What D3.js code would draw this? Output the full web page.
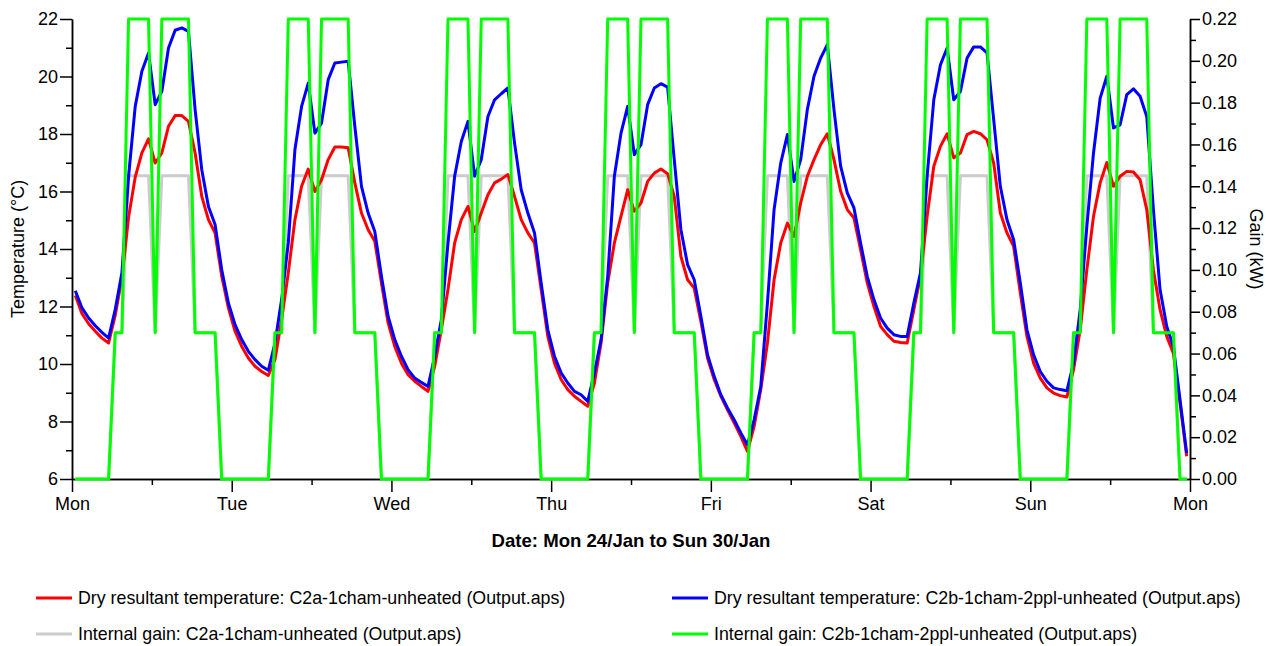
<!DOCTYPE html>
<html lang="en">
<head>
<meta charset="UTF-8">
<title>Dry resultant temperature and internal gain</title>
<script src="https://d3js.org/d3.v7.min.js"></script>
<style>
  body { margin: 0; background: #fff; }
  svg text { font-family: "Liberation Sans", Arial, sans-serif; fill: #000; }
  .axis text { font-size: 18px; }
  .axis path, .axis line { stroke: #000; stroke-width: 1.5; }
</style>
</head>
<body>
<svg id="chart" width="1266" height="646"></svg>
<script>
// hourly values, one row per day (Mon 24/Jan .. Sun 30/Jan), plotted at hh:30
const tempA = [
  12.38, 11.75, 11.4, 11.14, 10.9, 10.73, 11.7, 13.0, 15.1, 16.5, 17.34, 17.83, 16.99, 17.34, 18.27, 18.64, 18.64, 18.44, 17.34, 15.83, 15.02, 14.56, 13.05, 11.95,
  11.14, 10.61, 10.21, 9.92, 9.74, 9.6, 10.15, 11.54, 13.17, 15.02, 16.18, 16.78, 16.0, 16.41, 17.11, 17.55, 17.55, 17.52, 16.3, 15.25, 14.67, 14.27, 12.82, 11.43,
  10.61, 10.03, 9.63, 9.4, 9.22, 9.05, 9.92, 11.19, 12.59, 14.21, 15.02, 15.48, 14.61, 15.25, 15.89, 16.3, 16.43, 16.59, 15.83, 15.02, 14.56, 14.21, 12.59, 10.96,
  10.03, 9.46, 9.11, 8.88, 8.7, 8.53, 9.34, 10.73, 12.82, 14.21, 15.14, 16.06, 15.31, 15.6, 16.35, 16.64, 16.78, 16.62, 15.83, 13.74, 12.93, 12.64, 11.48, 10.21,
  9.46, 8.88, 8.41, 7.95, 7.48, 6.96, 7.83, 9.11, 10.73, 12.93, 14.21, 14.9, 14.44, 15.6, 16.53, 17.11, 17.63, 18.01, 17.11, 16.01, 15.37, 15.08, 13.98, 12.82,
  12.01, 11.31, 11.02, 10.79, 10.75, 10.73, 11.89, 13.05, 15.14, 16.88, 17.57, 18.01, 17.17, 17.34, 17.98, 18.09, 18.01, 17.8, 16.99, 15.25, 14.56, 14.09, 12.47, 10.96,
  10.03, 9.51, 9.17, 8.99, 8.9, 8.85, 9.8, 11.19, 13.28, 15.14, 16.3, 17.01, 16.18, 16.53, 16.7, 16.68, 16.41, 15.37, 13.28, 11.89, 10.96, 10.38, 8.64, 6.79
];
const tempB = [
  12.55, 11.95, 11.6, 11.33, 11.1, 10.9, 11.9, 13.17, 16.53, 18.96, 20.18, 20.82, 19.02, 19.48, 20.99, 21.61, 21.69, 21.57, 18.85, 16.76, 15.48, 14.85, 13.28, 12.12,
  11.37, 10.85, 10.44, 10.15, 9.92, 9.78, 10.73, 12.24, 14.21, 17.46, 18.96, 19.77, 18.03, 18.38, 19.89, 20.47, 20.5, 20.53, 18.27, 16.18, 15.25, 14.61, 13.05, 11.66,
  10.85, 10.27, 9.8, 9.51, 9.36, 9.22, 10.27, 11.54, 14.21, 16.53, 17.74, 18.44, 16.53, 17.11, 18.61, 19.19, 19.4, 19.6, 17.69, 16.06, 15.25, 14.56, 12.82, 11.19,
  10.27, 9.69, 9.34, 9.05, 8.93, 8.7, 9.69, 10.85, 13.05, 16.53, 18.03, 18.96, 17.28, 17.63, 19.02, 19.6, 19.75, 19.63, 17.11, 14.67, 13.46, 12.93, 11.66, 10.32,
  9.57, 8.93, 8.47, 8.06, 7.6, 7.19, 8.06, 9.22, 12.12, 15.37, 16.99, 17.98, 16.35, 17.11, 18.85, 20.01, 20.64, 21.11, 18.85, 16.88, 15.95, 15.43, 14.21, 13.05,
  12.24, 11.6, 11.25, 11.02, 10.96, 10.96, 12.12, 13.17, 16.53, 19.19, 20.41, 20.99, 19.19, 19.48, 20.64, 21.03, 21.03, 20.82, 18.5, 16.18, 15.02, 14.32, 12.82, 11.19,
  10.32, 9.74, 9.4, 9.17, 9.11, 9.07, 10.03, 11.89, 14.79, 17.34, 19.25, 20.01, 18.21, 18.32, 19.37, 19.57, 19.31, 18.61, 15.37, 12.59, 11.31, 10.61, 8.76, 6.9
];
// internal gain schedule, the same every day (kW)
const gainDayA = [0, 0, 0, 0, 0, 0, 0.07, 0.07, 0.145, 0.145, 0.145, 0.145, 0.07, 0.145, 0.145, 0.145, 0.145, 0.145, 0.07, 0.07, 0.07, 0.07, 0, 0];
const gainDayB = [0, 0, 0, 0, 0, 0, 0.07, 0.07, 0.22, 0.22, 0.22, 0.22, 0.07, 0.22, 0.22, 0.22, 0.22, 0.22, 0.07, 0.07, 0.07, 0.07, 0, 0];
const numDays = 7;

const dayNames = ["Mon", "Tue", "Wed", "Thu", "Fri", "Sat", "Sun", "Mon"];
const tempTicks = [6, 8, 10, 12, 14, 16, 18, 20, 22];
const tempMinor = [7, 9, 11, 13, 15, 17, 19, 21];
const gainTicks = [0, 0.02, 0.04, 0.06, 0.08, 0.10, 0.12, 0.14, 0.16, 0.18, 0.20, 0.22];
const gainMinor = [0.01, 0.03, 0.05, 0.07, 0.09, 0.11, 0.13, 0.15, 0.17, 0.19, 0.21];

const seriesNames = [
  "Dry resultant temperature: C2a-1cham-unheated (Output.aps)",
  "Dry resultant temperature: C2b-1cham-2ppl-unheated (Output.aps)",
  "Internal gain: C2a-1cham-unheated (Output.aps)",
  "Internal gain: C2b-1cham-2ppl-unheated (Output.aps)"
];
const seriesColors = ["#ff0000", "#0000ff", "#cccccc", "#00ff00"];

const svg = d3.select("#chart");
const width = +svg.attr("width");
const height = +svg.attr("height");
const margin = {top: 19, right: 76, bottom: 167, left: 72};
const plotWidth = width - margin.left - margin.right;
const plotHeight = height - margin.top - margin.bottom;

const start = Date.UTC(2022, 0, 24);
const hour = 3600 * 1000;
const timeAt = k => new Date(start + (k + 0.5) * hour);

const xScale = d3.scaleUtc()
  .domain([new Date(start), new Date(start + numDays * 24 * hour)])
  .range([0, plotWidth]);
const tempScale = d3.scaleLinear().domain([6, 22]).range([plotHeight, 0]);
const gainScale = d3.scaleLinear().domain([0, 0.22]).range([plotHeight, 0]);

const chart = svg.append("g").attr("transform", `translate(${margin.left},${margin.top})`);

// axes
const dayTicks = d3.range(numDays + 1).map(d => new Date(start + d * 24 * hour));
const noonTicks = d3.range(numDays).map(d => new Date(start + (d * 24 + 12) * hour));

chart.append("g").attr("class", "axis")
  .attr("transform", `translate(0,${plotHeight})`)
  .call(d3.axisBottom(xScale).tickValues(noonTicks).tickFormat("").tickSize(6).tickSizeOuter(0));
chart.append("g").attr("class", "axis")
  .attr("transform", `translate(0,${plotHeight})`)
  .call(d3.axisBottom(xScale).tickValues(dayTicks).tickFormat((d, i) => dayNames[i])
    .tickSize(13).tickPadding(5).tickSizeOuter(0));

chart.append("g").attr("class", "axis")
  .call(d3.axisLeft(tempScale).tickValues(tempMinor).tickFormat("").tickSize(6).tickSizeOuter(0));
chart.append("g").attr("class", "axis")
  .call(d3.axisLeft(tempScale).tickValues(tempTicks).tickSize(12).tickPadding(2).tickSizeOuter(0));

chart.append("g").attr("class", "axis")
  .attr("transform", `translate(${plotWidth},0)`)
  .call(d3.axisRight(gainScale).tickValues(gainMinor).tickFormat("").tickSize(6).tickSizeOuter(0));
chart.append("g").attr("class", "axis")
  .attr("transform", `translate(${plotWidth},0)`)
  .call(d3.axisRight(gainScale).tickValues(gainTicks).tickFormat(d3.format(".2f"))
    .tickSize(10).tickPadding(2).tickSizeOuter(0));

// series
const gainA = [], gainB = [];
for (let d = 0; d < numDays; d++) {
  gainA.push(...gainDayA);
  gainB.push(...gainDayB);
}

const tempLine = d3.line().x((d, i) => xScale(timeAt(i))).y(d => tempScale(d));
const gainLine = d3.line().x((d, i) => xScale(timeAt(i))).y(d => gainScale(d));

const series = [
  {values: gainA, line: gainLine, color: seriesColors[2]},
  {values: tempA, line: tempLine, color: seriesColors[0]},
  {values: tempB, line: tempLine, color: seriesColors[1]},
  {values: gainB, line: gainLine, color: seriesColors[3]}
];
series.forEach(s => {
  chart.append("path")
    .datum(s.values)
    .attr("fill", "none")
    .attr("stroke", s.color)
    .attr("stroke-width", 3)
    .attr("stroke-linejoin", "round")
    .attr("d", s.line);
});

// axis titles
svg.append("text")
  .attr("transform", `translate(24,${margin.top + plotHeight / 2}) rotate(-90)`)
  .attr("text-anchor", "middle")
  .style("font-size", "18px")
  .text("Temperature (°C)");

svg.append("text")
  .attr("transform", `translate(1250,${margin.top + plotHeight / 2}) rotate(90)`)
  .attr("text-anchor", "middle")
  .style("font-size", "18px")
  .text("Gain (kW)");

svg.append("text")
  .attr("x", margin.left + plotWidth / 2)
  .attr("y", 547)
  .attr("text-anchor", "middle")
  .style("font-size", "18.6px")
  .style("font-weight", "bold")
  .text("Date: Mon 24/Jan to Sun 30/Jan");

// legend
const legendX = [36, 672];
const legendY = [598, 634];
seriesNames.forEach((name, i) => {
  const lx = legendX[i % 2];
  const ly = legendY[Math.floor(i / 2)];
  const g = svg.append("g").attr("transform", `translate(${lx},${ly})`);
  g.append("line")
    .attr("x1", 0).attr("x2", 36)
    .attr("y1", 0).attr("y2", 0)
    .attr("stroke", seriesColors[i])
    .attr("stroke-width", 3);
  g.append("text")
    .attr("x", 42)
    .attr("dy", "0.35em")
    .style("font-size", "17.8px")
    .text(name);
});
</script>
</body>
</html>
